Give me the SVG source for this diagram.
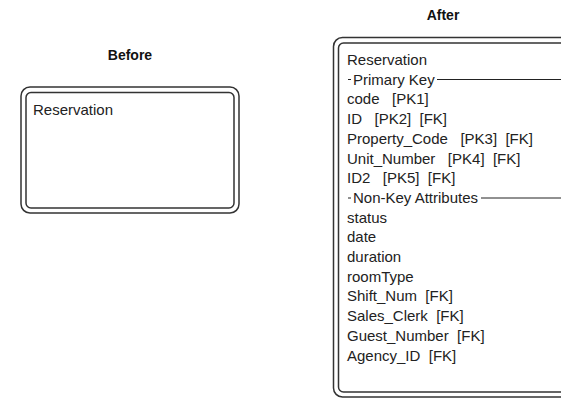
<svg xmlns="http://www.w3.org/2000/svg" width="561" height="400" viewBox="0 0 561 400">
<style>
text{font-family:"Liberation Sans",Arial,sans-serif;font-size:15px;fill:#222;white-space:pre}
.title{font-weight:bold;font-size:14px;fill:#111}
.frame{fill:none;stroke:#333;stroke-width:1.5}
.sep{stroke:#222;stroke-width:1}
</style>
<rect width="561" height="400" fill="#fff"/>
<text class="title" x="130" y="60" text-anchor="middle">Before</text>
<text class="title" x="443" y="20" text-anchor="middle">After</text>
<g id="before">
<rect class="frame" x="21" y="87" width="218" height="126" rx="9"/>
<rect class="frame" x="26" y="92.5" width="208" height="115.5" rx="5"/>
<text x="33" y="115">Reservation</text>
</g>
<g id="after">
<rect class="frame" x="333.5" y="37.5" width="250" height="359.5" rx="9"/>
<rect class="frame" x="338.5" y="43" width="240" height="349" rx="5"/>
<text x="347" y="65">Reservation</text>
<line class="sep" x1="348" y1="79.5" x2="351" y2="79.5"/>
<text x="353" y="84.7">Primary Key</text>
<line class="sep" x1="437" y1="79.5" x2="561" y2="79.5"/>
<text x="347" y="104.4">code   [PK1]</text>
<text x="347" y="124.1">ID   [PK2]  [FK]</text>
<text x="347" y="143.8">Property_Code   [PK3]  [FK]</text>
<text x="347" y="163.5">Unit_Number   [PK4]  [FK]</text>
<text x="347" y="183.2">ID2   [PK5]  [FK]</text>
<line class="sep" x1="348" y1="198" x2="351" y2="198"/>
<text x="353" y="202.9">Non-Key Attributes</text>
<line class="sep" x1="481" y1="198" x2="561" y2="198"/>
<text x="347" y="222.6">status</text>
<text x="347" y="242.3">date</text>
<text x="347" y="262">duration</text>
<text x="347" y="281.7">roomType</text>
<text x="347" y="301.4">Shift_Num  [FK]</text>
<text x="347" y="321.1">Sales_Clerk  [FK]</text>
<text x="347" y="340.8">Guest_Number  [FK]</text>
<text x="347" y="360.5">Agency_ID  [FK]</text>
</g>
</svg>
